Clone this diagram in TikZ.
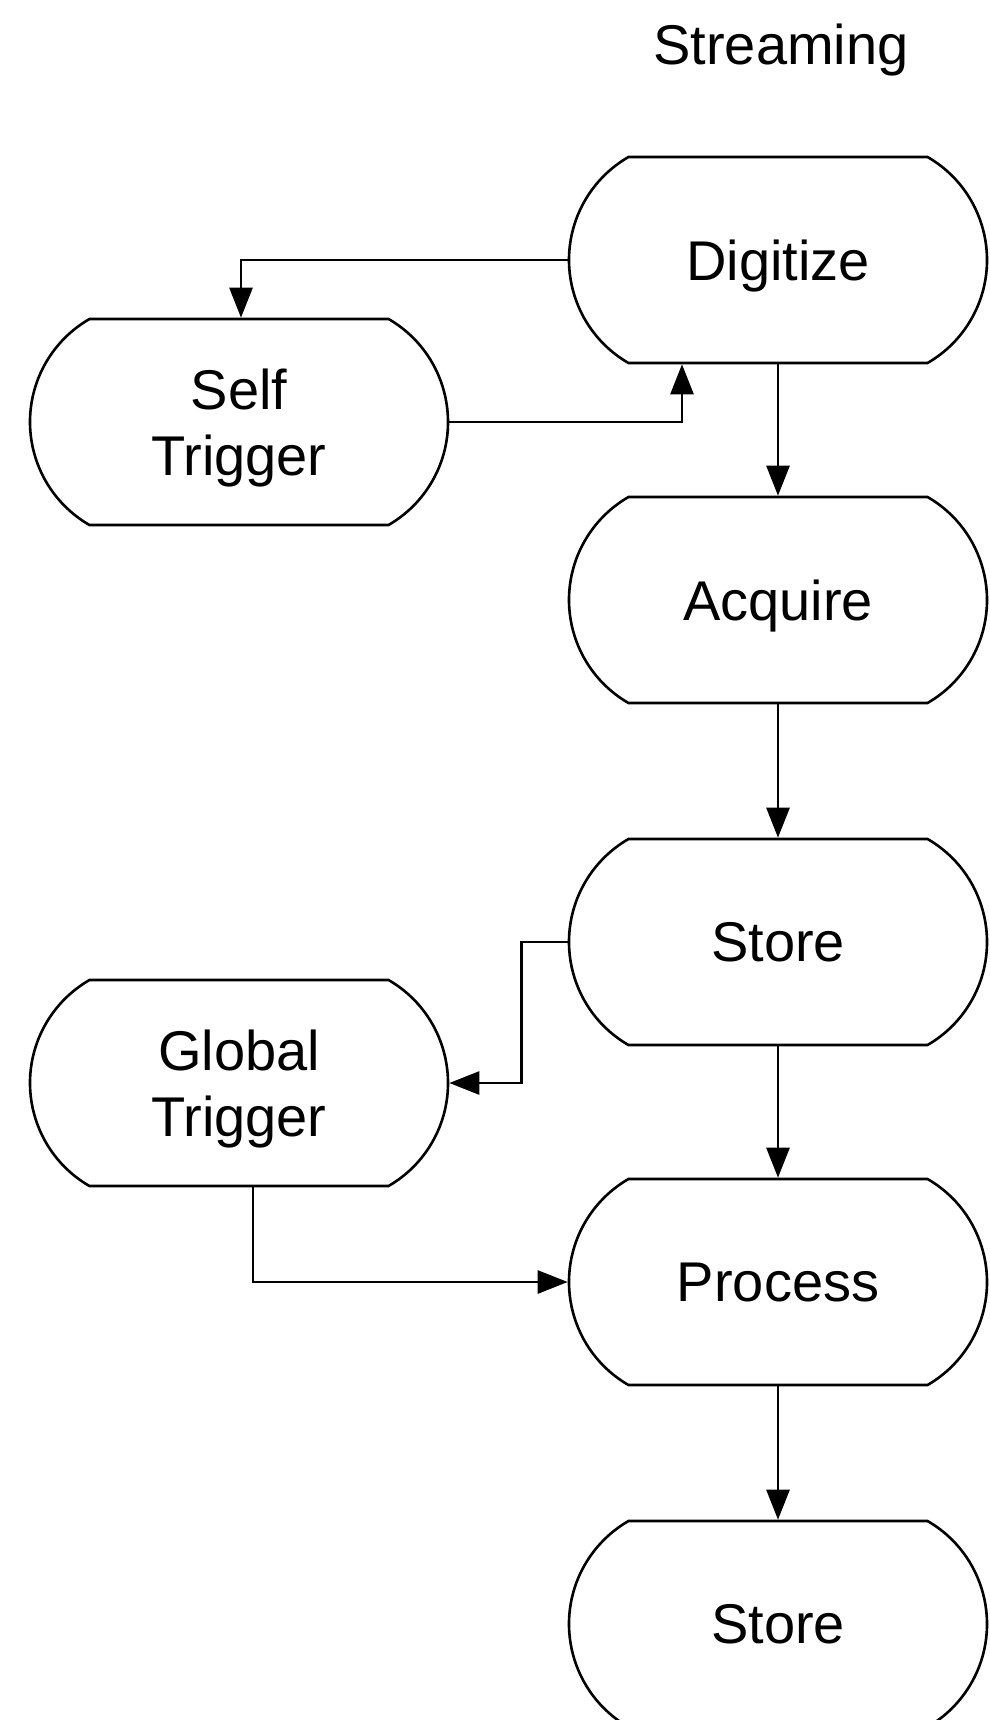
\documentclass[tikz,border=0pt]{standalone}
\usepackage{fontspec}
\setmainfont{Liberation Sans}
\usetikzlibrary{shapes.misc,arrows.meta,calc}
\begin{document}
\begin{tikzpicture}[x=1pt,y=-1pt,
  box/.style={draw,line width=2.6pt,rounded rectangle,rounded rectangle arc length=120,
    minimum width=418pt,minimum height=206pt,inner sep=0pt,align=center,text depth=0pt,
    font=\fontsize{56}{66}\selectfont},
  conn/.style={draw,line width=2.6pt,-{Triangle[length=30pt,width=23pt]}},
  lbl/.style={font=\fontsize{56}{66}\selectfont}]
\useasboundingbox (0,0) rectangle (989,1720);
\node[lbl] (title) at (781,50) {Streaming};
\node[box] (D)  at (778,260)  {Digitize};
\node[box] (ST) at (239,422)  {Self\\Trigger};
\node[box] (A)  at (778,600)  {Acquire};
\node[box] (S1) at (778,942)  {Store};
\node[box] (GT) at (239,1083) {Global\\Trigger};
\node[box] (P)  at (778,1282) {Process};
\node[box] (S2) at (778,1624) {Store};
\draw[conn] (D.west) -| ([xshift=2pt]ST.north);
\draw[conn] (ST.east) -| ([xshift=-96pt]D.south);
\draw[conn] (D.south) -- (A.north);
\draw[conn] (A.south) -- (S1.north);
\draw[conn] (S1.west) -- ++(-46,0) |- (GT.east);
\draw[conn] (S1.south) -- (P.north);
\draw[conn] ([xshift=14pt]GT.south) |- (P.west);
\draw[conn] (P.south) -- (S2.north);
\end{tikzpicture}
\end{document}
